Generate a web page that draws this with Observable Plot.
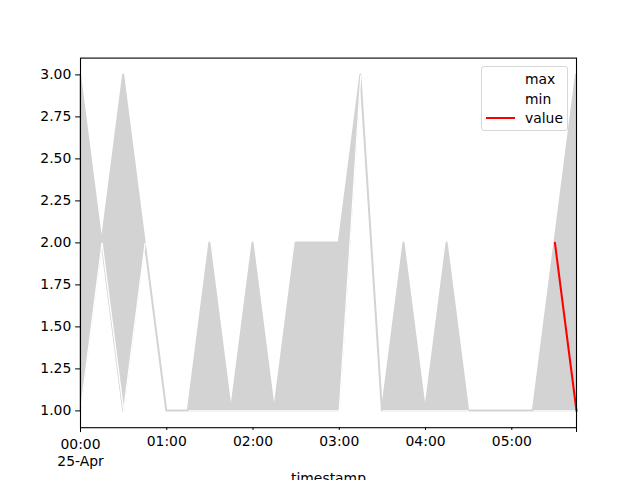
<!DOCTYPE html>
<html>
<head>
<meta charset="utf-8">
<script src="https://cdn.jsdelivr.net/npm/d3@7"></script>
<script src="https://cdn.jsdelivr.net/npm/@observablehq/plot@0.6"></script>
<style>
  html, body { margin: 0; padding: 0; background: white; }
  #wrap { position: relative; width: 640px; height: 480px; font-family: "DejaVu Sans", sans-serif; }
  #legend { position: absolute; left: 481px; top: 66px; width: 87px; height: 65px;
    border: 1px solid #d6d6d6; border-radius: 3px; background: rgba(255,255,255,0.8);
    font-size: 13.9px; color: black; box-sizing: border-box; }
  .item { position: absolute; left: 43px; height: 16px; line-height: 16px; }
  .swatch { position: absolute; left: 4px; width: 29px; height: 0; border-top: 2px solid red; }
</style>
</head>
<body>
<div id="wrap"></div>
<script>
// ---- data ----
const timestamps = [
  "2023-04-25T00:00Z","2023-04-25T00:15Z","2023-04-25T00:30Z","2023-04-25T00:45Z",
  "2023-04-25T01:00Z","2023-04-25T01:15Z","2023-04-25T01:30Z","2023-04-25T01:45Z",
  "2023-04-25T02:00Z","2023-04-25T02:15Z","2023-04-25T02:30Z","2023-04-25T02:45Z",
  "2023-04-25T03:00Z","2023-04-25T03:15Z","2023-04-25T03:30Z","2023-04-25T03:45Z",
  "2023-04-25T04:00Z","2023-04-25T04:15Z","2023-04-25T04:30Z","2023-04-25T04:45Z",
  "2023-04-25T05:00Z","2023-04-25T05:15Z","2023-04-25T05:30Z","2023-04-25T05:45Z"
];
const maxVals = [3,2,3,2,1,1,2,1,2,1,2,2,2,3,1,2,1,2,1,1,1,1,2,3];
const minVals = [1,2,1,2,1,1,1,1,1,1,1,1,1,3,1,1,1,1,1,1,1,1,1,1];
const valueVals = [null,null,null,null,null,null,null,null,null,null,null,null,
                   null,null,null,null,null,null,null,null,null,null,2,1];
const yTicks = [1.00,1.25,1.50,1.75,2.00,2.25,2.50,2.75,3.00];
const hourTicks = ["2023-04-25T01:00Z","2023-04-25T02:00Z","2023-04-25T03:00Z","2023-04-25T04:00Z","2023-04-25T05:00Z"];
const startTick = ["2023-04-25T00:00Z"];
const endTick = ["2023-04-25T05:45Z"];
const legendLabels = ["max","min","value"];

// ---- build tables ----
const data = timestamps.map((t, i) => ({t: new Date(t), max: maxVals[i], min: minVals[i], value: valueVals[i]}));
const segs = [];
for (let i = 0; i < data.length - 1; i++) {
  const a = data[i], b = data[i + 1];
  if (!(a.max === a.min && b.max === b.min)) {
    segs.push({x1: a.t, x2: b.t, min1: a.min, min2: b.min});
  }
}
const toDates = arr => arr.map(s => new Date(s));
const fmtHM = d3.utcFormat("%H:%M");

const chart = Plot.plot({
  width: 640, height: 480,
  marginLeft: 80, marginRight: 64, marginTop: 57.6, marginBottom: 52.8,
  style: {fontFamily: "DejaVu Sans", fontSize: "13.9px", color: "black", background: "white"},
  x: {type: "utc", domain: [data[0].t, data[data.length - 1].t]},
  y: {domain: [0.9, 3.1]},
  marks: [
    Plot.areaY(data, {x: "t", y1: "min", y2: "max", fill: "lightgray", stroke: "lightgray", strokeWidth: 2, curve: "linear"}),
    Plot.link(segs, {x1: "x1", x2: "x2", y1: "min1", y2: "min2", stroke: "white", strokeWidth: 1.3}),
    Plot.line(data, {x: "t", y: "value", stroke: "red", strokeWidth: 2.08}),
    Plot.frame({stroke: "black", strokeWidth: 1.1}),
    Plot.axisY({ticks: yTicks, tickFormat: d3.format(".2f"), tickSize: 4.86, tickPadding: 4.4, label: null, fontSize: 13.9}),
    Plot.axisX({ticks: toDates(hourTicks), tickFormat: fmtHM, tickSize: 2.78, tickPadding: 6, label: null, fontSize: 13.9}),
    Plot.axisX({ticks: toDates(startTick), tickFormat: d => fmtHM(d) + "\n" + d3.utcFormat("%d-%b")(d), tickSize: 4.86, tickPadding: 3.9, label: null, fontSize: 13.9, lineHeight: 1.25}),
    Plot.axisX({ticks: toDates(endTick), tickFormat: () => "", tickSize: 4.86, label: null}),
    Plot.text(["timestamp"], {frameAnchor: "bottom", dy: 45, lineAnchor: "top", fontSize: 13.9, fill: "black"})
  ]
});

const wrap = document.getElementById("wrap");
wrap.appendChild(chart);

// legend
const legend = document.createElement("div");
legend.id = "legend";
const tops = [4, 24, 43];
legendLabels.forEach((lab, i) => {
  const it = document.createElement("div");
  it.className = "item";
  it.style.top = tops[i] + "px";
  it.textContent = lab;
  legend.appendChild(it);
  if (lab === "value") {
    const sw = document.createElement("div");
    sw.className = "swatch";
    sw.style.top = (tops[i] + 7) + "px";
    legend.appendChild(sw);
  }
});
wrap.appendChild(legend);
</script>
</body>
</html>
